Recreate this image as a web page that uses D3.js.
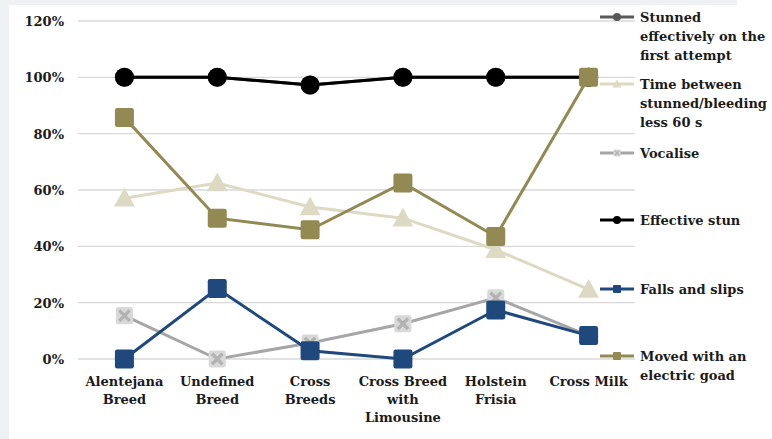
<!DOCTYPE html>
<html>
<head>
<meta charset="utf-8">
<script src="https://cdn.jsdelivr.net/npm/d3@7"></script>
<style>
  body { margin: 0; background: #eef0f3; }
  svg { display: block; }
  text { font-family: "DejaVu Serif", serif; font-weight: bold; fill: #1b1b1b; }
</style>
</head>
<body>
<div id="chart"></div>
<script>
'use strict';

// Categories (x axis), split into label lines
var categories = ['Alentejana', 'Undefined', 'Cross', 'Cross Breed', 'Holstein', 'Cross Milk'];
var categoryLabels = [
  ['Alentejana', 'Breed'],
  ['Undefined', 'Breed'],
  ['Cross', 'Breeds'],
  ['Cross Breed', 'with', 'Limousine'],
  ['Holstein', 'Frisia'],
  ['Cross Milk']
];

// Series values, percent
var stunnedFirst = [100, 100, 97.3, 100, 100, 100];
var timeBleeding = [57.1, 62.5, 54, 50, 38.8, 24.7];
var vocalise = [15.4, 0, 5.7, 12.5, 21.7, 8.3];
var effectiveStun = [100, 100, 97.3, 100, 100, 100];
var fallsSlips = [0, 25, 2.9, 0, 17.4, 8.3];
var movedGoad = [85.7, 50, 45.9, 62.5, 43.5, 100];

var yTicks = [0, 20, 40, 60, 80, 100, 120];

var series = [
  {name: ['Stunned', 'effectively on the', 'first attempt'], values: stunnedFirst, color: '#595959', marker: 'circle', fill: '#595959'},
  {name: ['Time between', 'stunned/bleeding', 'less 60 s'], values: timeBleeding, color: '#ddd9c3', marker: 'triangle', fill: '#ddd9c3'},
  {name: ['Vocalise'], values: vocalise, color: '#a6a6a6', marker: 'x', fill: '#d9d9d9'},
  {name: ['Effective stun'], values: effectiveStun, color: '#000000', marker: 'circle', fill: '#000000'},
  {name: ['Falls and slips'], values: fallsSlips, color: '#1f497d', marker: 'square', fill: '#1f497d'},
  {name: ['Moved with an', 'electric goad'], values: movedGoad, color: '#938953', marker: 'square', fill: '#938953'}
];

var width = 772, height = 439;
var margin = {top: 21, left: 78, right: 137, bottom: 80};
var fontSize = 13;

var svg = d3.select('#chart').append('svg')
  .attr('width', width)
  .attr('height', height);

// white panel
svg.append('rect').attr('x', 9).attr('y', 5).attr('width', width - 9).attr('height', height - 5).attr('fill', '#fff');
svg.append('rect').attr('x', 737).attr('y', 0).attr('width', 35).attr('height', 5).attr('fill', '#fff');

var x = d3.scaleBand()
  .domain(categories)
  .range([margin.left, width - margin.right]);

var y = d3.scaleLinear()
  .domain([0, 120])
  .range([359, margin.top]);

// grid
svg.append('g').selectAll('line')
  .data(yTicks)
  .enter()
  .append('line')
  .attr('x1', margin.left)
  .attr('x2', width - margin.right)
  .attr('y1', function(d) { return y(d); })
  .attr('y2', function(d) { return y(d); })
  .attr('stroke', '#d9d9d9')
  .attr('stroke-width', 1.3);

var yAxis = d3.axisLeft(y)
  .tickValues(yTicks)
  .tickSize(0)
  .tickPadding(0)
  .tickFormat(function(d) { return d + '%'; });

var yg = svg.append('g')
  .attr('transform', 'translate(64,0)')
  .call(yAxis);
yg.select('.domain').remove();
yg.selectAll('text')
  .attr('font-size', fontSize)
  .attr('dy', '0.35em')
  .style('font-family', '"DejaVu Serif", serif');

// x labels
var xl = svg.append('g').selectAll('text')
  .data(categories)
  .enter()
  .append('text')
  .attr('text-anchor', 'middle')
  .attr('font-size', fontSize)
  .attr('x', function(d) { return x(d) + x.bandwidth() / 2; });

xl.each(function(d, i) {
  var t = d3.select(this);
  categoryLabels[i].forEach(function(line, j) {
    t.append('tspan')
      .attr('x', x(d) + x.bandwidth() / 2)
      .attr('y', 386 + j * 18)
      .text(line);
  });
});

var line = d3.line()
  .x(function(d, i) { return x(categories[i]) + x.bandwidth() / 2; })
  .y(function(d) { return y(d); });

function drawMarker(g, s, cx, cy, size) {
  var r = size / 2;
  if (s.marker === 'circle') {
    g.append('circle').attr('cx', cx).attr('cy', cy).attr('r', r).attr('fill', s.fill);
  } else if (s.marker === 'square') {
    g.append('rect').attr('x', cx - r).attr('y', cy - r)
      .attr('width', size).attr('height', size)
      .attr('rx', size * 0.12)
      .attr('fill', s.fill);
  } else if (s.marker === 'triangle') {
    r = r * 1.1;
    g.append('path')
      .attr('d', 'M' + cx + ',' + (cy - r) + 'L' + (cx + r) + ',' + (cy + r * 0.8) + 'L' + (cx - r) + ',' + (cy + r * 0.8) + 'Z')
      .attr('fill', s.fill);
  } else if (s.marker === 'x') {
    g.append('rect').attr('x', cx - r * 0.9).attr('y', cy - r * 0.9)
      .attr('width', size * 0.9).attr('height', size * 0.9)
      .attr('rx', size * 0.12)
      .attr('fill', s.fill);
    var k = r * 0.55;
    g.append('path')
      .attr('d', 'M' + (cx - k) + ',' + (cy - k) + 'L' + (cx + k) + ',' + (cy + k) + 'M' + (cx + k) + ',' + (cy - k) + 'L' + (cx - k) + ',' + (cy + k))
      .attr('stroke', '#b3b3b3')
      .attr('stroke-width', size * 0.18);
  }
}

series.forEach(function(s) {
  var g = svg.append('g');
  g.append('path')
    .datum(s.values)
    .attr('d', line)
    .attr('fill', 'none')
    .attr('stroke', s.color)
    .attr('stroke-width', 3);
  s.values.forEach(function(v, i) {
    drawMarker(g, s, x(categories[i]) + x.bandwidth() / 2, y(v), 19);
  });
});

// legend
var legendY = [17, 84, 153, 220, 289, 356];
series.forEach(function(s, i) {
  var g = svg.append('g').attr('transform', 'translate(600,' + legendY[i] + ')');
  g.append('line').attr('x1', 0).attr('x2', 34).attr('y1', 0).attr('y2', 0)
    .attr('stroke', s.color).attr('stroke-width', 3);
  drawMarker(g, s, 17, 0, 8);
  var t = g.append('text').attr('font-size', fontSize);
  s.name.forEach(function(n, j) {
    t.append('tspan').attr('x', 40).attr('y', 5 + j * 19).text(n);
  });
});
</script>
</body>
</html>
